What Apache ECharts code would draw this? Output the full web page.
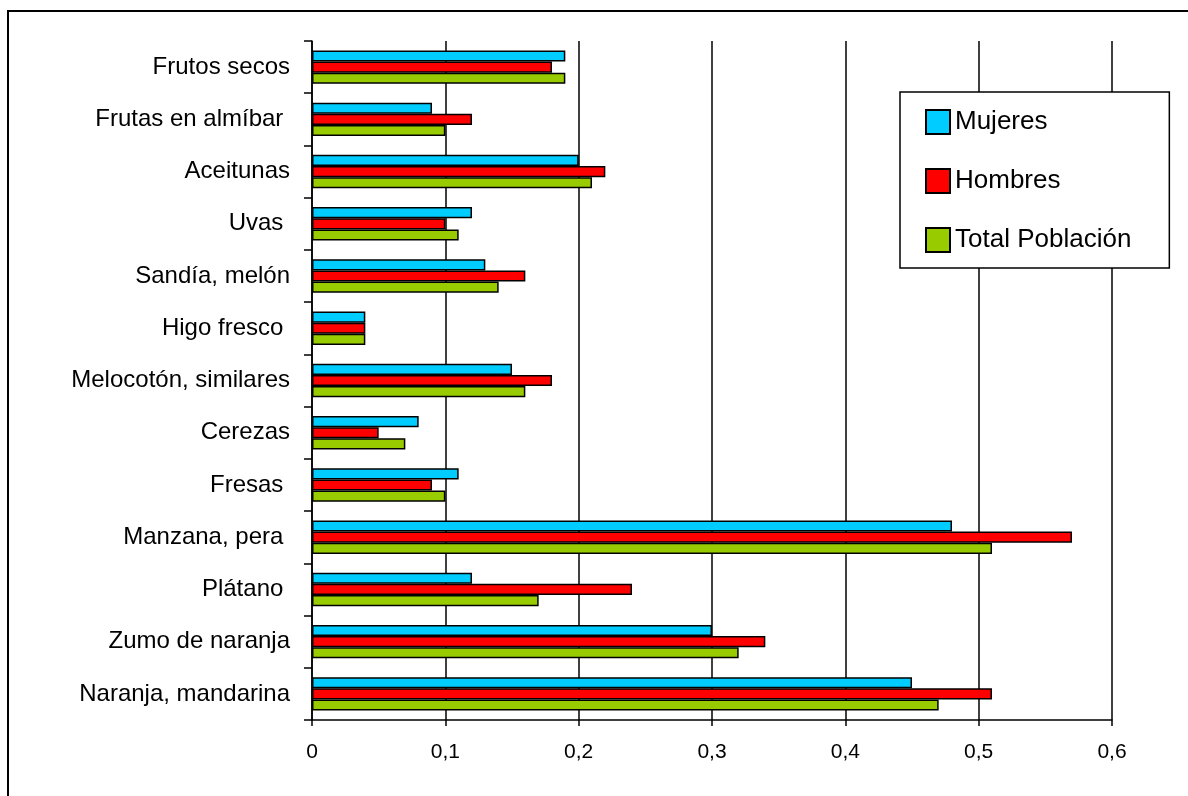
<!DOCTYPE html>
<html>
<head>
<meta charset="utf-8">
<script src="https://cdn.jsdelivr.net/npm/echarts@6/dist/echarts.min.js"></script>
<style>
  html, body { margin: 0; padding: 0; background: #fff; }
  #chart { width: 1188px; height: 796px; }
</style>
</head>
<body>
<div id="chart"></div>
<script>
// Categories listed top to bottom (trailing spaces are part of the labels)
const categories = [
  'Frutos secos',
  'Frutas en almíbar ',
  'Aceitunas',
  'Uvas ',
  'Sandía, melón',
  'Higo fresco ',
  'Melocotón, similares',
  'Cerezas',
  'Fresas ',
  'Manzana, pera ',
  'Plátano ',
  'Zumo de naranja',
  'Naranja, mandarina'
];

const mujeres = [0.19, 0.09, 0.20, 0.12, 0.13, 0.04, 0.15, 0.08, 0.11, 0.48, 0.12, 0.30, 0.45];
const hombres = [0.18, 0.12, 0.22, 0.10, 0.16, 0.04, 0.18, 0.05, 0.09, 0.57, 0.24, 0.34, 0.51];
const total   = [0.19, 0.10, 0.21, 0.11, 0.14, 0.04, 0.16, 0.07, 0.10, 0.51, 0.17, 0.32, 0.47];

const seriesNames = ['Mujeres', 'Hombres', 'Total Población'];
const seriesColors = ['#00CCFF', '#FF0000', '#99CC00'];
const seriesData = [mujeres, hombres, total];

const FONT = 'Liberation Sans, Arial, sans-serif';

const chart = echarts.init(document.getElementById('chart'), null, { renderer: 'canvas' });

chart.setOption({
  animation: false,
  backgroundColor: '#ffffff',
  textStyle: { fontFamily: FONT, color: '#000' },
  graphic: [{
    type: 'polyline',
    silent: true,
    shape: { points: [[8, 800], [8, 11], [1192, 11]] },
    style: { stroke: '#000', lineWidth: 2, fill: null }
  }],
  grid: { left: 312, right: 76, top: 41, bottom: 76, containLabel: false },
  legend: {
    orient: 'vertical',
    left: 900,
    top: 92,
    padding: [17, 38, 15, 25],
    itemWidth: 24,
    itemHeight: 24,
    itemGap: 33,
    icon: 'rect',
    backgroundColor: '#ffffff',
    borderColor: '#000',
    borderWidth: 1.5,
    borderRadius: 0,
    z: 10,
    textStyle: { fontFamily: FONT, fontSize: 26, color: '#000', lineHeight: 24 },
    data: seriesNames
  },
  xAxis: {
    type: 'value',
    min: 0,
    max: 0.6,
    interval: 0.1,
    axisLine: { show: true, lineStyle: { color: '#000', width: 1.5 } },
    axisTick: { show: true, length: 6, lineStyle: { color: '#000', width: 1.5 } },
    axisLabel: {
      margin: 22,
      fontFamily: FONT,
      fontSize: 21,
      color: '#000',
      formatter: v => String(Math.round(v * 10) / 10).replace('.', ',')
    },
    splitLine: { show: true, lineStyle: { color: '#000', width: 1.5 } }
  },
  yAxis: {
    type: 'category',
    inverse: true,
    data: categories,
    axisLine: { show: true, lineStyle: { color: '#000', width: 1.5 } },
    axisTick: { show: true, length: 8, lineStyle: { color: '#000', width: 1.5 } },
    axisLabel: {
      margin: 22,
      fontFamily: FONT,
      fontSize: 24,
      color: '#000'
    }
  },
  series: seriesNames.map((name, i) => ({
    name,
    type: 'bar',
    data: seriesData[i],
    barGap: '0%',
    barCategoryGap: '36%',
    itemStyle: { color: seriesColors[i], borderColor: '#000', borderWidth: 1.5 }
  }))
});
</script>
</body>
</html>
